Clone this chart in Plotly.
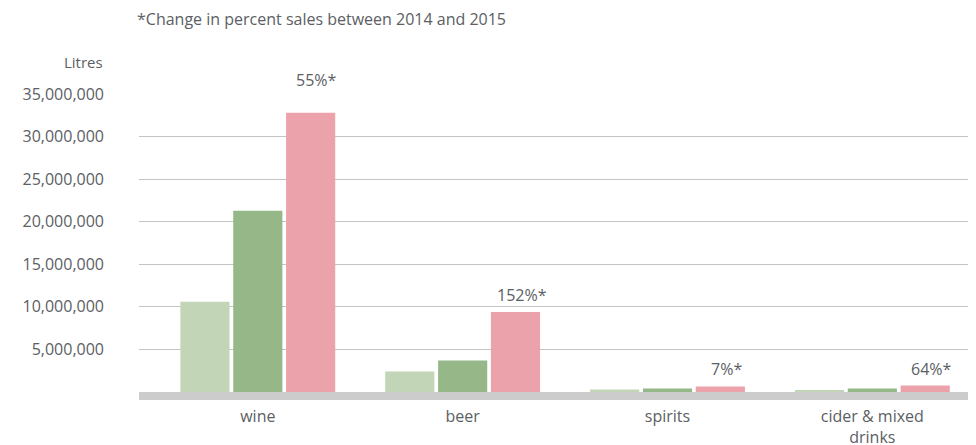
import plotly.graph_objects as go

categories = ["wine", "beer", "spirits", "cider & mixed<br>drinks"]
years = ["2013", "2014", "2015"]
litres_2013 = [10_600_000, 2_400_000, 300_000, 200_000]
litres_2014 = [21_300_000, 3_700_000, 420_000, 420_000]
litres_2015 = [32_800_000, 9_400_000, 650_000, 750_000]
change_labels = ["55%*", "152%*", "7%*", "64%*"]
label_shift = [20, 4, 4, 4]

colors = ["#c2d5b7", "#96b889", "#eba2aa"]
font_color = "#5b6064"
font_family = "'Open Sans', Lato, sans-serif"

fig = go.Figure()
for name, vals, col in zip(years, [litres_2013, litres_2014, litres_2015], colors):
    fig.add_trace(go.Bar(
        x=categories,
        y=vals,
        name=name,
        marker=dict(color=col, line=dict(width=0)),
        hoverinfo="skip",
    ))

# percent change labels over the 2015 bars
for cat, val, txt, dy in zip(categories, litres_2015, change_labels, label_shift):
    fig.add_annotation(
        x=cat, y=val, text=txt, showarrow=False,
        xshift=59, yshift=dy, yanchor="bottom",
        font=dict(size=16, color=font_color),
    )

fig.add_annotation(
    text="Litres", xref="paper", yref="paper", x=0, y=1,
    xanchor="right", yanchor="bottom", xshift=-34, yshift=20,
    showarrow=False, font=dict(size=15, color=font_color),
)
fig.add_annotation(
    text="*Change in percent sales between 2014 and 2015",
    xref="paper", yref="paper", x=0, y=1, xanchor="left", yanchor="bottom",
    xshift=-4, yshift=62, showarrow=False, font=dict(size=16, color=font_color),
)

# page body has an 8px margin, so margins are offset to land the plot area
fig.update_layout(
    width=976, height=445,
    margin=dict(l=131, r=16, t=86, b=61),
    paper_bgcolor="white", plot_bgcolor="white",
    font=dict(family=font_family, color=font_color, size=16),
    barmode="group", bargap=0.226, bargroupgap=0.07,
    showlegend=False,
    xaxis=dict(
        range=[-0.58, 3.467], showgrid=False, automargin=False,
        showline=True, linewidth=8, linecolor="#cccccc",
        ticks="", ticklabelstandoff=3,
        tickfont=dict(size=16, color=font_color),
    ),
    yaxis=dict(
        range=[0, 35_000_000], automargin=False,
        tickvals=[5e6, 10e6, 15e6, 20e6, 25e6, 30e6, 35e6],
        tickformat=",d", showgrid=True, gridcolor="#c4c4c4", gridwidth=1,
        zeroline=False, ticks="", ticklabelstandoff=34,
        tickfont=dict(size=16, color=font_color),
    ),
)

fig.write_html("out.html")
